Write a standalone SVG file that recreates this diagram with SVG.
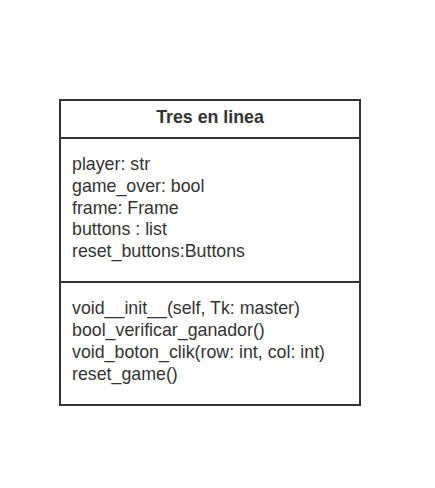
<svg xmlns="http://www.w3.org/2000/svg" width="435" height="488" viewBox="0 0 435 488">
<style>
.box{fill:#fff;stroke:#333;stroke-width:2}
.div{stroke:#333;stroke-width:2}
text{font-family:"Liberation Sans",Arial,sans-serif;font-size:17.8px;fill:#333}
.t{font-weight:bold;text-anchor:middle}
</style>
<rect width="435" height="488" fill="#fff"/>
<g id="class-tres-en-linea">
<rect class="box" x="60" y="100" width="300" height="305"/>
<line class="div" x1="60" y1="138" x2="360" y2="138"/>
<line class="div" x1="60" y1="282" x2="360" y2="282"/>
<text class="t" x="210" y="123">Tres en linea</text>
<text x="72" y="170">player: str</text>
<text x="72" y="192">game_over: bool</text>
<text x="72" y="213.5">frame: Frame</text>
<text x="72" y="235">buttons : list</text>
<text x="72" y="257">reset_buttons:Buttons</text>
<text x="72" y="314">void__init__(self, Tk: master)</text>
<text x="72" y="336">bool_verificar_ganador()</text>
<text x="72" y="358">void_boton_clik(row: int, col: int)</text>
<text x="72" y="380">reset_game()</text>
</g>
<g id="connectors"/>
</svg>
